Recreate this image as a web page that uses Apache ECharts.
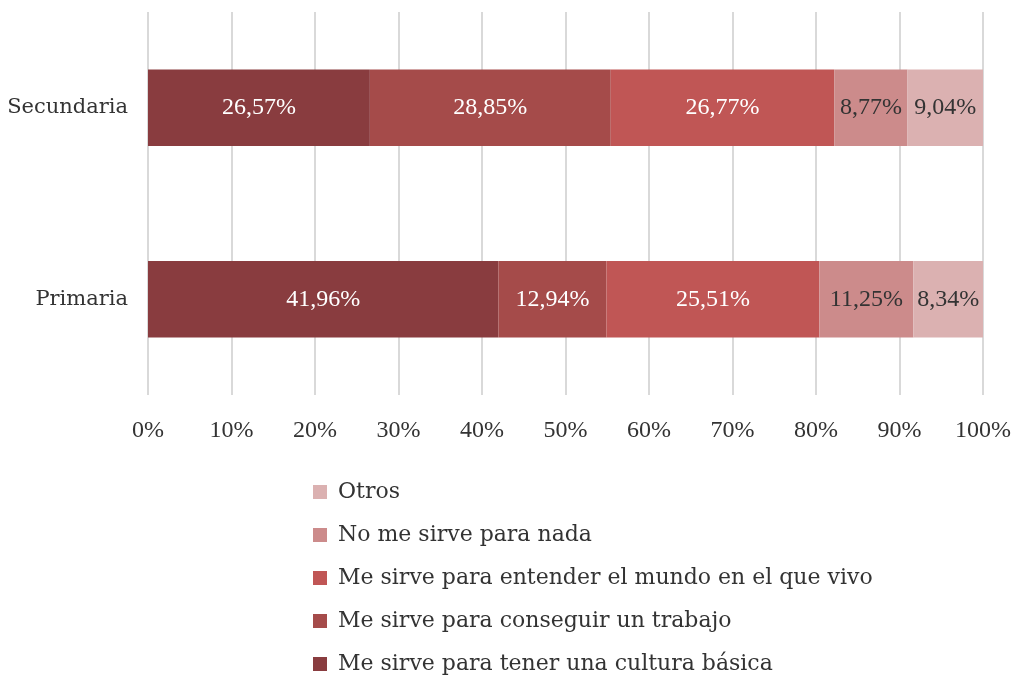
<!DOCTYPE html>
<html>
<head>
<meta charset="utf-8">
<script src="https://cdn.jsdelivr.net/npm/echarts@6/dist/echarts.min.js"></script>
<style>
  html, body { margin: 0; padding: 0; background: #fff; }
  #chart { width: 1015px; height: 675px; }
</style>
</head>
<body>
<div id="chart"></div>
<script>
// datos
var niveles = ['Primaria', 'Secundaria'];
var cultura = [41.96, 26.57];
var trabajo = [12.94, 28.85];
var mundo = [25.51, 26.77];
var nada = [11.25, 8.77];
var otros = [8.34, 9.04];
var ticks = [0, 10, 20, 30, 40, 50, 60, 70, 80, 90, 100];

var nombres = [
    'Me sirve para tener una cultura básica',
    'Me sirve para conseguir un trabajo',
    'Me sirve para entender el mundo en el que vivo',
    'No me sirve para nada',
    'Otros'
];
var colores = ['#893c3f', '#a54b4a', '#c05655', '#cc8b8b', '#dbb1b1'];
var colorTexto = ['#fff', '#fff', '#fff', '#333', '#333'];
var valores = [cultura, trabajo, mundo, nada, otros];
var fuente = '"Liberation Serif", serif';
var fuenteAncha = '"DejaVu Serif", serif';

var myChart = echarts.init(document.getElementById('chart'));

var series = [];
for (let i = 0; i < nombres.length; i++) {
    series.push({
        name: nombres[i],
        type: 'bar',
        stack: 'total',
        barWidth: '40%',
        data: valores[i],
        itemStyle: { color: colores[i] },
        label: {
            show: true,
            color: colorTexto[i],
            fontFamily: fuente,
            fontSize: 24,
            formatter: function (p) {
                return p.value.toFixed(2).replace('.', ',') + '%';
            }
        }
    });
}

var option = {
    animation: false,
    textStyle: { fontFamily: fuente },
    grid: { left: 148, right: 32, top: 12, bottom: 280 },
    legend: {
        orient: 'vertical',
        left: 308,
        top: 476,
        height: 220,
        itemWidth: 14,
        itemHeight: 14,
        itemGap: 21,
        icon: 'rect',
        data: nombres.slice().reverse(),
        textStyle: {
            fontFamily: fuenteAncha,
            fontSize: 22,
            color: '#333',
            padding: [0, 0, 0, 6]
        }
    },
    xAxis: {
        type: 'value',
        min: ticks[0],
        max: ticks[ticks.length - 1],
        interval: 10,
        axisLine: { show: false },
        axisTick: { show: false },
        axisLabel: {
            margin: 24,
            fontSize: 24,
            color: '#333',
            fontFamily: fuente,
            formatter: '{value}%'
        },
        splitLine: { lineStyle: { color: '#d9d9d9', width: 2 } }
    },
    yAxis: {
        type: 'category',
        data: niveles,
        axisLine: { show: false },
        axisTick: { show: false },
        axisLabel: {
            margin: 20,
            fontSize: 21,
            color: '#333',
            fontFamily: fuenteAncha
        }
    },
    series: series
};

myChart.setOption(option);
</script>
</body>
</html>
